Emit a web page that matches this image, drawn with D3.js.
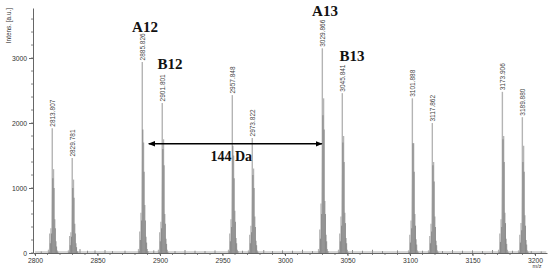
<!DOCTYPE html>
<html>
<head>
<meta charset="utf-8">
<script src="https://cdn.jsdelivr.net/npm/d3@7"></script>
<style>
  body { margin: 0; background: #fff; }
  svg { display: block; }
</style>
</head>
<body>
<svg id="chart" width="550" height="274"></svg>
<script>
/* labelled monoisotopic peaks */
var peakMass = [2813.807, 2829.781, 2885.826, 2901.801, 2957.848, 2973.822,
                3029.866, 3045.841, 3101.888, 3117.862, 3173.906, 3189.880];
var peakLabel = ["2813.807", "2829.781", "2885.826", "2901.801", "2957.848", "2973.822",
                 "3029.866", "3045.841", "3101.888", "3117.862", "3173.906", "3189.880"];
/* isotope offsets (Da) around each labelled peak */
var isoOffset = [-3, -2, -1, 0, 1, 2, 3, 4];
/* light (profile) intensities of each cluster */
var isoLight = [
  [50, 300, 380, 1920, 1290, 520, 180, 40],
  [40, 260, 320, 1460, 1130, 450, 150, 30],
  [60, 330, 620, 2940, 1700, 740, 250, 60],
  [50, 320, 480, 2310, 1750, 600, 220, 50],
  [50, 300, 520, 2430, 1500, 650, 230, 50],
  [40, 280, 420, 1770, 1300, 560, 190, 40],
  [60, 360, 760, 3150, 2380, 800, 280, 60],
  [50, 300, 560, 2460, 1800, 620, 230, 50],
  [40, 280, 500, 2380, 1690, 600, 210, 40],
  [40, 260, 450, 2000, 1400, 560, 190, 40],
  [50, 300, 520, 2480, 1800, 620, 220, 50],
  [40, 280, 460, 2090, 1650, 580, 200, 40]
];
/* darker overlay intensities of each cluster */
var isoDark = [
  [20, 150, 300, 1150, 1000, 380, 100, 20],
  [20, 120, 250, 1000, 850, 300, 90, 20],
  [30, 200, 500, 1900, 1250, 500, 160, 30],
  [20, 180, 380, 1600, 1350, 450, 140, 20],
  [30, 180, 400, 1650, 1150, 480, 150, 30],
  [20, 150, 320, 1200, 1000, 400, 120, 20],
  [30, 220, 600, 2120, 1900, 600, 180, 30],
  [20, 180, 420, 1700, 1400, 460, 150, 20],
  [20, 160, 380, 1690, 1250, 420, 130, 20],
  [20, 150, 330, 1350, 1100, 400, 120, 20],
  [20, 170, 400, 1750, 1400, 460, 140, 20],
  [20, 160, 350, 1400, 1250, 420, 130, 20]
];
/* small baseline noise */
var noiseMz  = [2805, 2818, 2836, 2842, 2848, 2856, 2862, 2872, 2895, 2912, 2920, 2928,
                2936, 2944, 2966, 2983, 2990, 2998, 3006, 3014, 3022, 3054, 3062, 3070,
                3078, 3090, 3110, 3126, 3134, 3142, 3150, 3158, 3166, 3182, 3197, 3205];
var noiseInt = [25, 30, 60, 35, 40, 45, 30, 35, 40, 30, 45, 35,
                30, 40, 35, 45, 30, 40, 35, 50, 30, 45, 35, 50,
                30, 40, 35, 30, 45, 35, 40, 30, 45, 35, 30, 25];
/* peak series annotations */
var annText = ["A12", "B12", "A13", "B13"];
var annMass = [2888, 2908, 3032, 3053.6];
var annInt  = [3400, 2830, 3640, 2950];
var arrowMass = [2891, 3029.5];
var arrowInt = 1680;
var arrowText = "144 Da";

var xTicks = d3.range(2800, 3201, 50);
var xMinor = d3.range(2800, 3210, 10);
var yTicks = [0, 1000, 2000, 3000];
var yMinor = d3.range(0, 3770, 200);

var svg = d3.select("#chart");

var x = d3.scaleLinear().domain([2798.4, 3209.6]).range([33, 547]);
var y = d3.scaleLinear().domain([0, 3770]).range([253, 8]);

var axisColor = "#666";

/* minor ticks */
svg.append("g")
    .selectAll("line")
    .data(yMinor)
    .join("line")
    .attr("x1", 31).attr("x2", 33)
    .attr("y1", d => y(d)).attr("y2", d => y(d))
    .attr("stroke", axisColor).attr("stroke-width", 0.8);
svg.append("g")
    .selectAll("line")
    .data(xMinor)
    .join("line")
    .attr("x1", d => x(d)).attr("x2", d => x(d))
    .attr("y1", 253).attr("y2", 255)
    .attr("stroke", axisColor).attr("stroke-width", 0.8);

/* axes */
var gx = svg.append("g")
    .attr("transform", "translate(0,253)")
    .call(d3.axisBottom(x).tickValues(xTicks).tickFormat(d3.format("d"))
        .tickSize(3).tickSizeOuter(0).tickPadding(2));
var gy = svg.append("g")
    .attr("transform", "translate(33,0)")
    .call(d3.axisLeft(y).tickValues(yTicks).tickFormat(d3.format("d"))
        .tickSize(4).tickSizeOuter(0).tickPadding(2));
[gx, gy].forEach(function(g) {
    g.selectAll("path, line").attr("stroke", axisColor);
    g.selectAll("text")
        .attr("fill", "#333")
        .style("font-family", "Liberation Sans, Arial, sans-serif")
        .style("font-size", "6.8px");
});

svg.append("text")
    .attr("transform", "translate(11,8) rotate(-90)")
    .attr("text-anchor", "end")
    .style("font-family", "Liberation Sans, Arial, sans-serif")
    .style("font-size", "6.4px")
    .attr("fill", "#333")
    .text("Intens. [a.u.]");

svg.append("text")
    .attr("x", 537).attr("y", 268)
    .attr("text-anchor", "middle")
    .style("font-family", "Liberation Sans, Arial, sans-serif")
    .style("font-size", "5.5px")
    .attr("fill", "#333")
    .text("m/z");

/* baseline noise */
svg.append("g")
    .selectAll("line")
    .data(noiseMz)
    .join("line")
    .attr("x1", d => x(d)).attr("x2", d => x(d))
    .attr("y1", y(0)).attr("y2", (d, i) => y(noiseInt[i]))
    .attr("stroke", "#888").attr("stroke-width", 1);
svg.append("line")
    .attr("x1", x(2800)).attr("x2", x(3209))
    .attr("y1", y(15)).attr("y2", y(15))
    .attr("stroke", "#999").attr("stroke-width", 0.8);

/* isotope clusters */
var area = d3.area()
    .x(d => x(d.mz))
    .y0(y(0))
    .y1(d => y(d.v))
    .curve(d3.curveMonotoneX);

peakMass.forEach(function(m, k) {
    var pts = [{mz: m - 4, v: 0}];
    isoOffset.forEach(function(o, j) { pts.push({mz: m + o, v: isoLight[k][j] * 0.55}); });
    pts.push({mz: m + 5, v: 0});
    svg.append("path")
        .datum(pts)
        .attr("d", area)
        .attr("fill", "#d4d4d4");

    svg.append("g")
        .selectAll("line")
        .data(isoOffset)
        .join("line")
        .attr("x1", o => x(m + o)).attr("x2", o => x(m + o))
        .attr("y1", y(0)).attr("y2", (o, j) => y(isoLight[k][j]))
        .attr("stroke", "#b4b4b4").attr("stroke-width", 1.4);

    svg.append("g")
        .selectAll("line")
        .data(isoOffset)
        .join("line")
        .attr("x1", o => x(m + o) + 0.6).attr("x2", o => x(m + o) + 0.6)
        .attr("y1", y(0)).attr("y2", (o, j) => y(isoDark[k][j]))
        .attr("stroke", "#7a7a7a").attr("stroke-width", 0.8);

    var top = d3.max(isoLight[k]);
    svg.append("text")
        .attr("transform", "translate(" + (x(m) + 2.3) + "," + (y(top) - 1.5) + ") rotate(-90)")
        .attr("text-anchor", "start")
        .style("font-family", "Liberation Sans, Arial, sans-serif")
        .style("font-size", "6.5px")
        .attr("fill", "#444")
        .text(peakLabel[k]);
});

/* series labels */
svg.append("g")
    .selectAll("text")
    .data(annText)
    .join("text")
    .attr("x", (d, i) => x(annMass[i]))
    .attr("y", (d, i) => y(annInt[i]))
    .attr("text-anchor", "middle")
    .style("font-family", "Liberation Serif, Times New Roman, serif")
    .style("font-weight", "bold")
    .style("font-size", "15px")
    .attr("fill", "#111")
    .text(d => d);

/* 144 Da arrow */
svg.append("defs").append("marker")
    .attr("id", "ah")
    .attr("viewBox", "0 0 10 10")
    .attr("refX", 9).attr("refY", 5)
    .attr("markerWidth", 5).attr("markerHeight", 5)
    .attr("orient", "auto-start-reverse")
    .append("path")
    .attr("d", "M0,1 L10,5 L0,9 z")
    .attr("fill", "#000");

svg.append("line")
    .attr("x1", x(arrowMass[0])).attr("x2", x(arrowMass[1]))
    .attr("y1", y(arrowInt)).attr("y2", y(arrowInt))
    .attr("stroke", "#000").attr("stroke-width", 1.4)
    .attr("marker-start", "url(#ah)")
    .attr("marker-end", "url(#ah)");

svg.append("text")
    .attr("x", (x(arrowMass[0]) + x(arrowMass[1])) / 2 - 4)
    .attr("y", y(arrowInt) + 17)
    .attr("text-anchor", "middle")
    .style("font-family", "Liberation Serif, Times New Roman, serif")
    .style("font-weight", "bold")
    .style("font-size", "14px")
    .attr("fill", "#111")
    .text(arrowText);
</script>
</body>
</html>
